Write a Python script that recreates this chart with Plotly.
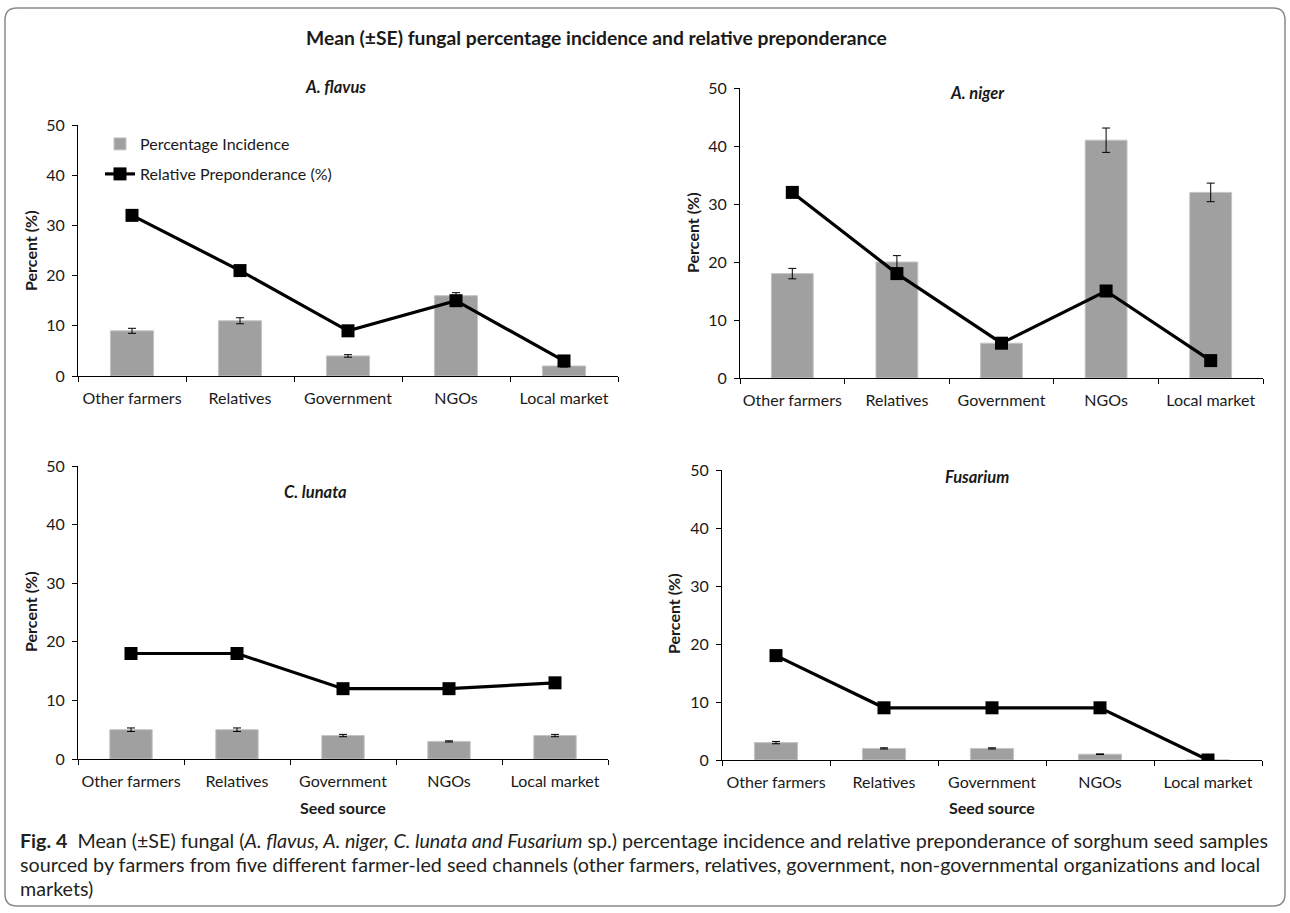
import plotly.graph_objects as go

W, H = 1290, 913

sources = ["Other farmers", "Relatives", "Government", "NGOs", "Local market"]

flavus_pi = [9, 11, 4, 16, 2]
flavus_se = [0.5, 0.6, 0.25, 0.6, 0.2]
flavus_rp = [32, 21, 9, 15, 3]

niger_pi = [18, 20, 6, 41, 32]
niger_se = [0.9, 1.1, 0.4, 2.1, 1.6]
niger_rp = [32, 18, 6, 15, 3]

lunata_pi = [5, 5, 4, 3, 4]
lunata_se = [0.3, 0.3, 0.2, 0.1, 0.2]
lunata_rp = [18, 18, 12, 12, 13]

fusarium_pi = [3, 2, 2, 1, 0]
fusarium_se = [0.2, 0.1, 0.1, 0.05, 0]
fusarium_rp = [18, 9, 9, 9, 0]

panels = [
    ("A. flavus", flavus_pi, flavus_se, flavus_rp),
    ("A. niger", niger_pi, niger_se, niger_rp),
    ("C. lunata", lunata_pi, lunata_se, lunata_rp),
    ("Fusarium", fusarium_pi, fusarium_se, fusarium_rp),
]

# pixel boxes of the plot areas: (left, right, top, bottom)
boxes = [(78, 618, 125, 376), (740, 1263, 88, 378), (78, 608, 466, 759), (722, 1262, 470, 760)]
subtitle_pos = [(335, 87), (978, 93), (315, 492), (977, 477)]
ytitle_pos = [(30, 251), (692, 233), (30, 612), (673, 614)]

FONT = "Lato"
BAR = "#a0a0a0"
TXT = "#1a1a1a"


def fx(px):
    return px / W


def fy(py):
    return 1 - py / H


fig = go.Figure()
layout = {}
annotations = []

for i, ((name, pi, se, rp), (l, r, t, b)) in enumerate(zip(panels, boxes)):
    n = "" if i == 0 else str(i + 1)
    xa, ya = "x" + n, "y" + n
    fig.add_trace(go.Bar(
        x=sources, y=pi, xaxis=xa, yaxis=ya,
        name="Percentage Incidence",
        marker=dict(color=BAR, line=dict(color="#c4c4c4", width=1)),
        error_y=dict(type="data", array=se, color="black", thickness=1, width=4),
        showlegend=(i == 0), legend="legend",
    ))
    fig.add_trace(go.Scatter(
        x=sources, y=rp, xaxis=xa, yaxis=ya, mode="lines+markers",
        name="Relative Preponderance (%)",
        line=dict(color="black", width=3.2),
        marker=dict(symbol="square", size=13, color="black"),
        showlegend=(i == 0), legend="legend2",
    ))
    layout["xaxis" + n] = dict(
        domain=[fx(l), fx(r)], anchor=ya, type="category", automargin=False,
        showline=True, linecolor="black", linewidth=1, tickangle=0,
        ticks="outside", tickson="boundaries", ticklen=5, tickcolor="black",
        ticklabelstandoff=8,
        tickfont=dict(family=FONT, size=16, color=TXT),
        showgrid=False, zeroline=False, fixedrange=True,
    )
    layout["yaxis" + n] = dict(
        domain=[fy(b), fy(t)], anchor=xa, range=[0, 50], dtick=10, automargin=False,
        showline=True, linecolor="black", linewidth=1,
        ticks="outside", ticklen=5, tickcolor="black",
        ticklabelstandoff=4,
        tickfont=dict(family=FONT, size=16, color=TXT),
        showgrid=False, zeroline=False, fixedrange=True,
    )
    sx, sy = subtitle_pos[i]
    annotations.append(dict(
        text="<b><i>%s</i></b>" % name, x=fx(sx), y=fy(sy), xref="paper", yref="paper",
        showarrow=False, xanchor="center", yanchor="middle",
        font=dict(family=FONT, size=16.5, color=TXT),
    ))
    tx, ty = ytitle_pos[i]
    annotations.append(dict(
        text="<b>Percent (%)</b>", x=fx(tx), y=fy(ty), xref="paper", yref="paper",
        showarrow=False, xanchor="center", yanchor="middle", textangle=-90,
        font=dict(family=FONT, size=16, color=TXT),
    ))
    if i >= 2:
        annotations.append(dict(
            text="<b>Seed source</b>", x=fx((l + r) / 2), y=fy(807), xref="paper", yref="paper",
            showarrow=False, xanchor="center", yanchor="middle",
            font=dict(family=FONT, size=16, color=TXT),
        ))

annotations.append(dict(
    text="<b>Mean (±SE) fungal percentage incidence and relative preponderance</b>",
    x=fx(596), y=fy(37), xref="paper", yref="paper", showarrow=False,
    xanchor="center", yanchor="middle", font=dict(family=FONT, size=19.3, color=TXT),
))

caption_lines = [
    "<b>Fig. 4</b>  Mean (±SE) fungal (<i>A. flavus, A. niger, C. lunata and Fusarium</i> sp.) percentage incidence and relative preponderance of sorghum seed samples",
    "sourced by farmers from five different farmer-led seed channels (other farmers, relatives, government, non-governmental organizations and local",
    "markets)",
]
for k, line in enumerate(caption_lines):
    annotations.append(dict(
        text=line, x=fx(18), y=fy(840 + 24 * k), xref="paper", yref="paper", showarrow=False,
        xanchor="left", yanchor="middle", font=dict(family=FONT, size=19.7, color="#231f20"),
    ))

rx, ry = 12 / W, 12 / H
x0, x1, y0, y1 = fx(5), fx(1285), fy(906), fy(8)
path = (f"M {x0+rx},{y1} L {x1-rx},{y1} Q {x1},{y1} {x1},{y1-ry} L {x1},{y0+ry} Q {x1},{y0} {x1-rx},{y0} "
        f"L {x0+rx},{y0} Q {x0},{y0} {x0},{y0+ry} L {x0},{y1-ry} Q {x0},{y1} {x0+rx},{y1} Z")

legend_font = dict(family=FONT, size=16, color=TXT)
fig.update_layout(
    width=W, height=H, margin=dict(l=0, r=0, t=0, b=0, autoexpand=False),
    paper_bgcolor="white", plot_bgcolor="white",
    bargap=0.6, showlegend=True,
    legend=dict(x=fx(100), y=fy(144), xanchor="left", yanchor="middle", font=legend_font,
                bgcolor="rgba(0,0,0,0)", itemclick=False),
    legend2=dict(x=fx(100), y=fy(174), xanchor="left", yanchor="middle", font=legend_font,
                 bgcolor="rgba(0,0,0,0)", itemclick=False),
    annotations=annotations,
    shapes=[dict(type="path", path=path, xref="paper", yref="paper",
                 line=dict(color="#8a8a8a", width=1.5), layer="below")],
    **layout,
)

fig.write_html(
    "out.html",
    config={"displayModeBar": False},
    post_script="document.body.style.margin='0';document.body.style.overflow='hidden';",
)
